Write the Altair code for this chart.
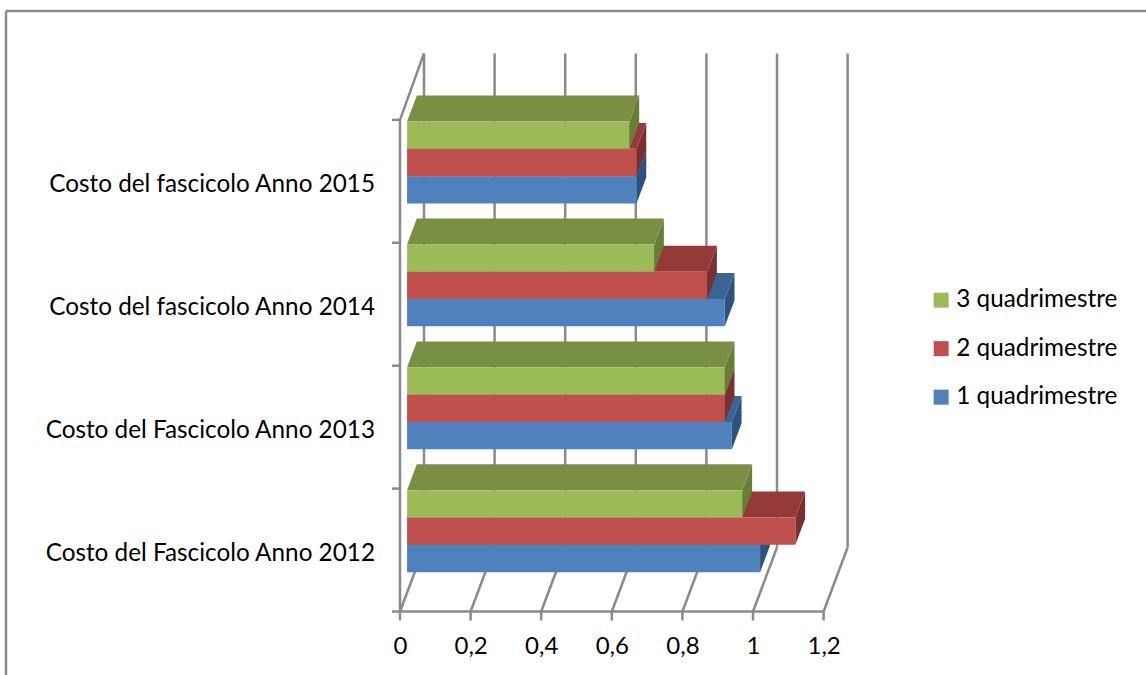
import altair as alt
import pandas as pd

# Anno in ordine dal basso verso l'alto
categories = [
    "Costo del Fascicolo Anno 2012",
    "Costo del Fascicolo Anno 2013",
    "Costo del fascicolo Anno 2014",
    "Costo del fascicolo Anno 2015",
]
series_names = ["1 quadrimestre", "2 quadrimestre", "3 quadrimestre"]
q1_values = [1.00, 0.92, 0.90, 0.65]
q2_values = [1.10, 0.90, 0.85, 0.65]
q3_values = [0.95, 0.90, 0.70, 0.63]
x_ticks = [0, 0.2, 0.4, 0.6, 0.8, 1.0, 1.2]

front_colors = ["#4F81BD", "#C0504D", "#9BBB59"]
top_colors = ["#3B6496", "#943B39", "#788F44"]
side_colors = ["#2E527E", "#7A302E", "#667F36"]
line_color = "#8A8A8A"

# Oblique projection: a unit of depth moves a point right and up on the canvas
PX_PER_VALUE = 353.0
PX_PER_LEVEL = 122.9
CANVAS_W, FLOOR_Y = 1146, 611.5
ORIGIN_X = 400
DEPTH_X = 24 / PX_PER_VALUE
DEPTH_Y = 64 / PX_PER_LEVEL
BAR_NEAR, BAR_FAR = 0.295, 0.70
GAP = 1 / 6
BAR_H = (1 - 2 * GAP) / 3
N_LEVELS = len(categories)
WALL_TOP = N_LEVELS + 0.02


def px(value, depth):
    return value + depth * DEPTH_X


def py(level, depth):
    return level + depth * DEPTH_Y


x_scale = alt.Scale(
    domain=[-ORIGIN_X / PX_PER_VALUE, (CANVAS_W - ORIGIN_X) / PX_PER_VALUE],
    nice=False, zero=False,
)
y_scale = alt.Scale(domain=[0, FLOOR_Y / PX_PER_LEVEL], nice=False, zero=False)

# Numeric axis with comma decimals; its tick lines are drawn with the wall lines
x_axis = alt.Axis(
    values=x_ticks, grid=False, domain=False, title=None, ticks=False,
    labelExpr="replace(format(datum.value, '~g'), '.', ',')",
    labelFont="Lato", labelFontSize=24, labelColor="#000000",
    labelPadding=23, labelFlush=False, labelOverlap=False,
)


def xenc(field="x"):
    return alt.X(f"{field}:Q", scale=x_scale, axis=x_axis, stack=None)


def yenc(field="y"):
    return alt.Y(f"{field}:Q", scale=y_scale, axis=None, stack=None)


# Wall and floor lines, with the short ticks on both front edges
segments = []
for t in x_ticks:
    segments.append(dict(x=px(t, 0), y=py(0, 0), x2=px(t, 1), y2=py(0, 1)))
    segments.append(dict(x=px(t, 1), y=py(0, 1), x2=px(t, 1), y2=py(WALL_TOP, 1)))
    segments.append(dict(x=t, y=-9 / PX_PER_LEVEL, x2=t, y2=0))
segments.append(dict(x=0, y=0, x2=max(x_ticks), y2=0))
segments.append(dict(x=0, y=0, x2=0, y2=N_LEVELS))
segments.append(dict(x=0, y=N_LEVELS, x2=px(0, 1), y2=py(WALL_TOP, 1)))
for k in range(N_LEVELS + 1):
    segments.append(dict(x=-8 / PX_PER_VALUE, y=k, x2=0, y2=k))
segments_df = pd.DataFrame(segments)

walls = alt.Chart(segments_df).mark_rule(color=line_color, strokeWidth=2.5).encode(
    x=xenc(), y=yenc(), x2="x2:Q", y2="y2:Q"
)

layers = [walls]
all_values = [q1_values, q2_values, q3_values]

# Each series is stacked over the previous one: side and top faces first, then the front
for j, name in enumerate(series_names):
    front_rows, top_rows, side_rows = [], [], []
    for i, cat in enumerate(categories):
        v = all_values[j][i]
        lo = i + GAP + j * BAR_H
        hi = lo + BAR_H
        front_rows.append(dict(
            series=name, cat=cat, x=px(0, BAR_NEAR), x2=px(v, BAR_NEAR),
            y=py(lo, BAR_NEAR), y2=py(hi, BAR_NEAR),
        ))
        for d in (BAR_NEAR, BAR_FAR):
            top_rows.append(dict(cat=cat, y=py(hi, d), x=px(0, d), x2=px(v, d)))
            side_rows.append(dict(cat=cat, x=px(v, d), y=py(lo, d), y2=py(hi, d)))
    side = alt.Chart(pd.DataFrame(side_rows)).mark_area(
        orient="vertical", color=side_colors[j]
    ).encode(x=xenc(), y=yenc(), y2="y2:Q", detail="cat:N")
    top = alt.Chart(pd.DataFrame(top_rows)).mark_area(
        orient="horizontal", color=top_colors[j]
    ).encode(y=yenc(), x=xenc(), x2="x2:Q", detail="cat:N")
    front = alt.Chart(pd.DataFrame(front_rows)).mark_rect().encode(
        x=xenc(), x2="x2:Q", y=yenc(), y2="y2:Q",
        color=alt.Color(
            "series:N",
            scale=alt.Scale(domain=series_names[::-1], range=front_colors[::-1]),
            legend=alt.Legend(
                title=None, orient="none", legendX=929, legendY=288,
                symbolType="square", symbolSize=225, symbolStrokeWidth=0,
                labelFont="Lato", labelFontSize=24.3, labelColor="#000000",
                labelOffset=3, rowPadding=23.5, labelLimit=240,
            ),
        ),
    )
    layers += [side, top, front]

# Category labels to the left of the value-zero line
labels_df = pd.DataFrame({"cat": categories, "y": [i + 0.47 for i in range(N_LEVELS)]})
cat_labels = alt.Chart(labels_df).mark_text(
    align="right", baseline="middle", font="Lato", fontSize=24.3, color="#000000"
).encode(x=alt.value(375), y=alt.Y("y:Q", scale=y_scale, axis=None), text="cat:N")
layers.append(cat_labels)

# Frame around the chart, open to the right and bottom
frame_left = alt.Chart(pd.DataFrame({"a": [0]})).mark_rule(
    color="#8C8C8C", strokeWidth=2.5
).encode(x=alt.value(6), y=alt.value(11), y2=alt.value(675))
frame_top = alt.Chart(pd.DataFrame({"a": [0]})).mark_rule(
    color="#8C8C8C", strokeWidth=2.5
).encode(x=alt.value(6), x2=alt.value(1146), y=alt.value(11))
layers += [frame_left, frame_top]

chart = alt.layer(*layers).properties(
    width=CANVAS_W, height=FLOOR_Y,
    padding={"left": 0, "top": 0, "right": 0, "bottom": 675 - FLOOR_Y},
    autosize=alt.AutoSizeParams(type="none"),
    background="white",
).configure_view(stroke=None)

chart.save("out.html", embed_options={"renderer": "svg", "actions": False})
